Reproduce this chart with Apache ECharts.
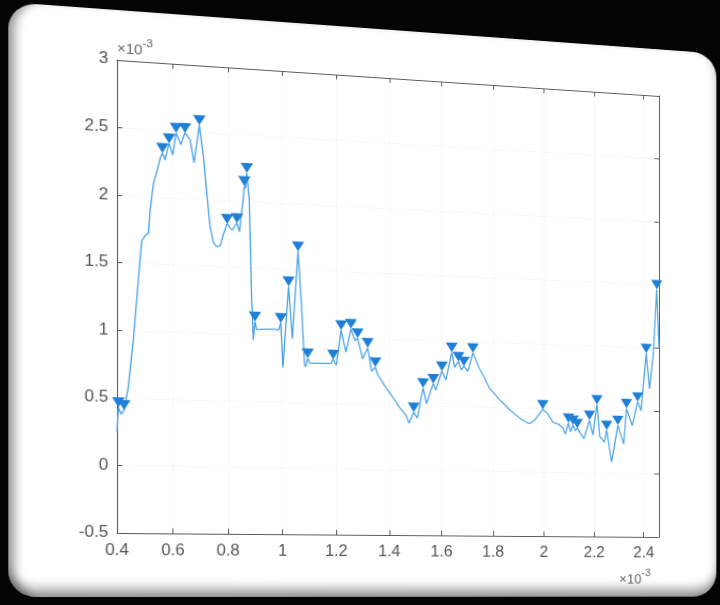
<!DOCTYPE html>
<html>
<head>
<meta charset="utf-8">
<script src="https://cdn.jsdelivr.net/npm/echarts@6/dist/echarts.min.js"></script>
<style>
  html, body { margin: 0; padding: 0; width: 720px; height: 605px; overflow: hidden; background: #040404; }
  #stage { position: absolute; left: 0; top: 0; width: 760px; height: 620px; transform-origin: 0 0; }
  #card {
    position: absolute; left: 17px; top: 10px; width: 704px; height: 587px;
    border-radius: 26px; background: #ffffff;
    box-shadow: inset 11px 0 9px -5px rgba(0,0,0,0.38),
                inset 0 -16px 12px -8px rgba(0,0,0,0.40),
                inset -6px 0 8px -5px rgba(0,0,0,0.22);
  }
  #chart { position: absolute; left: 0; top: 0; width: 760px; height: 620px; }
</style>
</head>
<body>
<div id="stage"><div id="card"></div><div id="chart"></div></div>
<script>
// Signal samples (both axes in units of 1e-3)
const sampleX = [
  0.400, 0.405, 0.415, 0.425, 0.440, 0.458, 0.476, 0.488, 0.500, 0.512,
  0.518, 0.530, 0.542, 0.554, 0.562, 0.571, 0.586, 0.599, 0.611, 0.628,
  0.643, 0.662, 0.676, 0.695, 0.710, 0.722, 0.734, 0.746, 0.758, 0.771,
  0.783, 0.796, 0.814, 0.832, 0.841, 0.854, 0.859, 0.863, 0.868, 0.877,
  0.886, 0.892, 0.898, 0.904, 0.940, 0.975, 0.985, 0.993, 1.001, 1.022,
  1.036, 1.057, 1.069, 1.081, 1.085, 1.093, 1.100, 1.150, 1.180, 1.188,
  1.200, 1.218, 1.236, 1.255, 1.270, 1.280, 1.299, 1.318, 1.333, 1.347,
  1.355, 1.380, 1.413, 1.438, 1.464, 1.475, 1.493, 1.507, 1.529, 1.542,
  1.568, 1.578, 1.601, 1.617, 1.639, 1.650, 1.665, 1.676, 1.686, 1.701,
  1.721, 1.747, 1.765, 1.784, 1.828, 1.868, 1.908, 1.941, 1.961, 1.995,
  2.015, 2.035, 2.055, 2.075, 2.084, 2.097, 2.106, 2.115, 2.124, 2.132,
  2.141, 2.159, 2.181, 2.195, 2.211, 2.222, 2.241, 2.250, 2.270, 2.295,
  2.319, 2.330, 2.353, 2.375, 2.389, 2.410, 2.423, 2.439, 2.453, 2.462
];
const sampleY = [
  0.25, 0.43, 0.38, 0.41, 0.58, 0.93, 1.38, 1.67, 1.71, 1.73,
  1.90, 2.10, 2.19, 2.29, 2.33, 2.28, 2.405, 2.32, 2.485, 2.40,
  2.49, 2.44, 2.27, 2.555, 2.32, 2.05, 1.80, 1.68, 1.65, 1.66,
  1.75, 1.826, 1.78, 1.835, 1.77, 2.00, 2.115, 2.10, 2.215, 2.01,
  1.26, 0.96, 1.10, 1.04, 1.045, 1.045, 1.04, 1.097, 0.76, 1.376,
  0.98, 1.643, 1.27, 0.79, 0.77, 0.835, 0.80, 0.80, 0.80, 0.832,
  0.79, 1.057, 0.89, 1.07, 0.98, 1.00, 0.843, 0.93, 0.75, 0.783,
  0.73, 0.65, 0.558, 0.482, 0.42, 0.36, 0.445, 0.40, 0.634, 0.513,
  0.67, 0.62, 0.767, 0.70, 0.915, 0.80, 0.845, 0.78, 0.81, 0.77,
  0.915, 0.793, 0.73, 0.65, 0.552, 0.475, 0.412, 0.377, 0.40, 0.49,
  0.458, 0.393, 0.38, 0.35, 0.30, 0.39, 0.32, 0.375, 0.33, 0.35,
  0.32, 0.268, 0.415, 0.30, 0.54, 0.29, 0.243, 0.34, 0.088, 0.38,
  0.232, 0.515, 0.38, 0.57, 0.50, 0.955, 0.674, 0.95, 1.465, 1.00
];
// Positions (indexes into the samples) of the detected peaks
const peakIndex = [
  1, 3, 14, 16, 18, 20, 23, 31, 33, 36, 38, 42, 47, 49, 51, 55, 59, 61,
  63, 65, 67, 69, 76, 78, 80, 82, 84, 86, 88, 90, 99, 105, 107, 109, 112,
  114, 117, 119, 121, 123, 125, 128
];
const xTicks = { min: 0.4, max: 2.462, step: 0.2 };
const yTicks = { min: -0.5, max: 3, step: 0.5 };

const lineData = sampleX.map((x, i) => [x, sampleY[i]]);
const peakData = peakIndex.map(i => [sampleX[i], sampleY[i]]);

// Perspective of the tilted screen: map the flat plot box onto its projected corners
function solveHomography(src, dst) {
  const A = [], b = [];
  for (let i = 0; i < 4; i++) {
    const [x, y] = src[i], [u, v] = dst[i];
    A.push([x, y, 1, 0, 0, 0, -u * x, -u * y]); b.push(u);
    A.push([0, 0, 0, x, y, 1, -v * x, -v * y]); b.push(v);
  }
  const n = 8;
  for (let c = 0; c < n; c++) {
    let p = c;
    for (let r = c + 1; r < n; r++) if (Math.abs(A[r][c]) > Math.abs(A[p][c])) p = r;
    [A[c], A[p]] = [A[p], A[c]]; [b[c], b[p]] = [b[p], b[c]];
    for (let r = 0; r < n; r++) {
      if (r === c) continue;
      const f = A[r][c] / A[c][c];
      for (let k = c; k < n; k++) A[r][k] -= f * A[c][k];
      b[r] -= f * b[c];
    }
  }
  return b.map((v, i) => v / A[i][i]);
}
const plotBox = { left: 117, top: 60, width: 542, height: 473 };
const flatCorners = [[117, 60], [659, 60], [659, 533], [117, 533]];
const viewCorners = [[117, 60], [659, 96], [659, 537], [117, 533]];
const [ha, hb, hc, hd, he, hf, hg, hh] = solveHomography(flatCorners, viewCorners);
document.getElementById('stage').style.transform =
  `matrix3d(${ha},${hd},0,${hg},${hb},${he},0,${hh},0,0,1,0,${hc},${hf},0,1)`;

const FONT = '"Liberation Sans", Arial, Helvetica, sans-serif';
const AXIS_COLOR = '#5a5a5a';
const LABEL_COLOR = '#555555';
const GRID_COLOR = '#f7f7f7';
const expName = '{m|×10}{e|-3}';
const expRich = {
  m: { fontSize: 14, color: '#666', fontFamily: FONT, lineHeight: 20, verticalAlign: 'bottom' },
  e: { fontSize: 11, color: '#666', fontFamily: FONT, lineHeight: 20, verticalAlign: 'top' }
};

const chart = echarts.init(document.getElementById('chart'), null, { renderer: 'canvas' });
chart.setOption({
  animation: false,
  backgroundColor: 'transparent',
  grid: { left: plotBox.left, top: plotBox.top, width: plotBox.width, height: plotBox.height, show: false },
  xAxis: [
    {
      type: 'value', position: 'bottom', min: xTicks.min, max: xTicks.max, interval: xTicks.step,
      axisLine: { show: true, onZero: false, lineStyle: { color: AXIS_COLOR, width: 1 } },
      axisTick: { show: true, inside: true, length: 5, lineStyle: { color: AXIS_COLOR } },
      axisLabel: { color: LABEL_COLOR, fontSize: 16, fontFamily: FONT, margin: 10, showMaxLabel: false },
      splitLine: { show: true, lineStyle: { color: GRID_COLOR, width: 1 } },
      name: expName, nameLocation: 'end', nameGap: -9,
      nameTextStyle: { align: 'right', verticalAlign: 'top', padding: [33, 0, 0, 0], rich: expRich }
    },
    {
      type: 'value', position: 'top', min: xTicks.min, max: xTicks.max, interval: xTicks.step,
      axisLine: { show: true, onZero: false, lineStyle: { color: AXIS_COLOR, width: 1 } },
      axisTick: { show: true, inside: true, length: 5, lineStyle: { color: AXIS_COLOR } },
      axisLabel: { show: false }, splitLine: { show: false }
    }
  ],
  yAxis: [
    {
      type: 'value', position: 'left', min: yTicks.min, max: yTicks.max, interval: yTicks.step,
      axisLine: { show: true, onZero: false, lineStyle: { color: AXIS_COLOR, width: 1 } },
      axisTick: { show: true, inside: true, length: 5, lineStyle: { color: AXIS_COLOR } },
      axisLabel: { color: LABEL_COLOR, fontSize: 16, fontFamily: FONT, margin: 8 },
      splitLine: { show: true, lineStyle: { color: GRID_COLOR, width: 1 } },
      name: expName, nameLocation: 'end', nameGap: 4,
      nameTextStyle: { align: 'left', verticalAlign: 'bottom', rich: expRich }
    },
    {
      type: 'value', position: 'right', min: yTicks.min, max: yTicks.max, interval: yTicks.step,
      axisLine: { show: true, onZero: false, lineStyle: { color: AXIS_COLOR, width: 1 } },
      axisTick: { show: true, inside: true, length: 5, lineStyle: { color: AXIS_COLOR } },
      axisLabel: { show: false }, splitLine: { show: false }
    }
  ],
  series: [
    {
      type: 'line', xAxisIndex: 0, yAxisIndex: 0, data: lineData,
      showSymbol: false, symbol: 'none',
      lineStyle: { color: '#4ba3e7', width: 1.3 }, z: 2
    },
    {
      type: 'scatter', xAxisIndex: 0, yAxisIndex: 0, data: peakData,
      symbol: 'path://M0,0L12,0L6,10Z', symbolSize: [12, 10], symbolOffset: [0, -5],
      itemStyle: { color: '#1f80d6', opacity: 1 }, z: 3
    }
  ]
});
</script>
</body>
</html>
